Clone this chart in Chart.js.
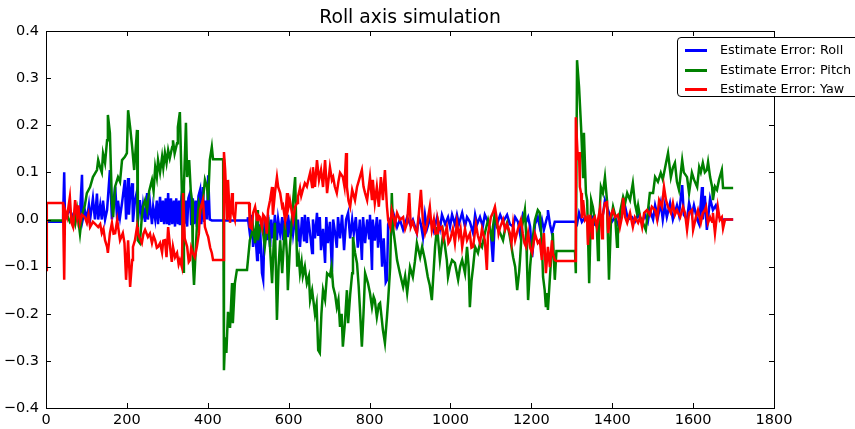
<html>
<head>
<script src="https://cdn.jsdelivr.net/npm/chart.js@4.4.1/dist/chart.umd.min.js"></script>
<style>
  body { margin: 0; width: 855px; height: 429px; overflow: hidden; background: #fff; position: relative; }
  canvas { position: absolute; left: 0; top: 0; }
  #legend {
    position: absolute; left: 677px; top: 37px; width: 200px; height: 58px;
    border: 1px solid #000; border-radius: 4px; background: #fff;
    font-family: "DejaVu Sans", sans-serif; font-size: 12.8px; color: #000;
  }
  #legend .row { position: absolute; left: 0; height: 16px; }
  #legend .swatch { position: absolute; left: 7px; top: 7px; width: 22px; height: 3px; }
  #legend .label { position: absolute; left: 42px; top: 0; white-space: nowrap; line-height: 16px; }
</style>
</head>
<body>
<canvas id="myChart" width="855" height="429"></canvas>
<div id="legend"></div>
<script>
  // estimate error samples, [step, error]
  var titleText = "Roll axis simulation";
  var seriesNames = ["Estimate Error: Roll", "Estimate Error: Pitch", "Estimate Error: Yaw"];
  var seriesColors = ["#0000ff", "#008000", "#ff0000"];

  var roll = [
    [0,-0.005],[42,-0.005],[45,0.1],[47,0],[52,0.01],[59,0.02],[67,0.005],[72,0.015],[77,0],[84,0.01],
    [89,0.095],[91,0],[96,0.02],[101,0],[106,0.03],[109,0],[116,0.045],[121,0],[126,0.055],[129,0],
    [134,0.03],[138,0],[141,0.04],[146,0],[151,0.02],[158,0.105],[163,0],[166,0.03],[171,0.07],[176,0],
    [178,0.04],[183,0.005],[188,0.035],[195,0.084],[198,0],[203,0.088],[205,0.01],[208,0.05],[213,0.077],[215,-0.005],
    [220,0.04],[225,0.06],[227,-0.005],[232,0.041],[237,0],[240,0.03],[245,-0.005],[250,0.056],[252,0],[257,0.035],
    [262,-0.01],[265,0.027],[270,0],[274,0.04],[277,-0.01],[282,0.048],[285,-0.005],[289,0.04],[292,-0.01],[296,0.045],
    [299,-0.01],[302,0.056],[305,-0.012],[309,0.045],[312,-0.01],[316,0.04],[319,-0.015],[322,0.045],[326,-0.01],[329,0.04],
    [331,-0.012],[335,0.048],[339,0.077],[342,-0.01],[346,0.04],[349,-0.015],[352,0.045],[356,0.056],[359,-0.012],[363,0.045],
    [366,-0.01],[370,0.04],[373,-0.015],[377,0.05],[381,0.063],[384,-0.01],[388,0.069],[391,-0.005],[395,0.04],[398,0],
    [401,0.094],[405,0],[410,-0.002],[497,-0.002],[499,0.005],[504,-0.03],[509,0.01],[512,-0.058],[517,-0.02],[522,-0.086],
    [524,0],[527,-0.07],[529,-0.01],[534,-0.114],[537,-0.128],[541,0.005],[546,-0.044],[549,0.01],[554,-0.058],[557,0],
    [561,-0.04],[566,0.01],[571,-0.044],[574,0],[579,-0.03],[584,0.005],[586,-0.044],[591,0],[596,-0.035],[598,0.01],
    [603,-0.02],[608,0],[611,-0.03],[616,0.005],[621,-0.044],[623,0],[628,-0.058],[633,0.005],[638,-0.044],[640,0.01],
    [645,-0.05],[648,0.005],[653,-0.03],[658,-0.071],[660,0],[665,-0.04],[670,0.014],[673,-0.035],[677,0.005],[680,-0.065],
    [685,-0.02],[690,-0.092],[693,0.005],[697,-0.05],[702,-0.005],[707,-0.111],[710,0],[715,-0.03],[719,-0.06],[722,0.005],
    [727,-0.04],[732,0.01],[737,-0.065],[742,0],[747,0.014],[752,-0.04],[757,0],[761,-0.03],[766,0.005],[771,-0.06],
    [776,0],[781,-0.086],[784,0.005],[789,-0.05],[794,0],[799,-0.04],[801,0.01],[806,-0.107],[808,0],[813,-0.045],
    [818,0.005],[821,-0.06],[826,0],[831,-0.1],[835,-0.04],[840,-0.133],[843,-0.128],[846,-0.01],[851,0],[855,-0.02],
    [860,0.01],[868,-0.016],[875,0],[883,-0.022],[893,0.005],[900,-0.01],[907,0],[917,-0.029],[922,0.005],[927,-0.01],
    [932,-0.037],[937,0.01],[942,-0.02],[949,0],[954,-0.01],[959,-0.025],[967,0.005],[974,-0.02],[979,0.01],[987,-0.01],
    [994,0.005],[999,-0.015],[1004,0.01],[1011,-0.01],[1016,0.01],[1021,-0.01],[1029,0.014],[1036,-0.015],[1041,0.005],[1048,-0.005],
    [1056,-0.029],[1061,0.01],[1066,-0.01],[1073,0.005],[1080,-0.015],[1085,0.01],[1093,-0.005],[1100,-0.03],[1105,-0.09],[1110,0.005],
    [1115,-0.01],[1123,0.01],[1130,-0.005],[1140,0.01],[1147,-0.01],[1155,-0.015],[1160,0.005],[1167,-0.005],[1172,-0.03],[1179,0.01],
    [1187,-0.005],[1192,0.005],[1197,-0.015],[1202,-0.08],[1209,-0.01],[1216,0.005],[1221,-0.016],[1226,0],[1231,-0.022],[1239,0.005],
    [1241,0.02],[1246,-0.01],[1251,-0.029],[1258,-0.005],[1308,-0.005],[1313,-0.01],[1318,0.014],[1325,-0.005],[1333,0.005],[1340,-0.005],
    [1350,0.005],[1357,-0.01],[1370,0],[1377,0.01],[1382,0.041],[1390,0.02],[1399,-0.005],[1407,0.005],[1414,-0.01],[1424,0.01],
    [1432,0.027],[1439,0],[1449,0.005],[1456,-0.005],[1464,0.01],[1474,-0.005],[1481,0.01],[1488,-0.005],[1493,0.02],[1501,0],
    [1506,0.03],[1513,0.005],[1520,0.035],[1525,0],[1530,0.03],[1535,0.005],[1543,0.035],[1550,0],[1560,0.03],[1565,0.01],
    [1573,0.073],[1577,0.01],[1585,0],[1590,0.035],[1597,0.01],[1602,0.03],[1610,0],[1615,-0.01],[1622,0.069],[1624,0],
    [1629,0.05],[1634,-0.022],[1642,0.045],[1649,0.02],[1656,0.03],[1664,0.005],[1671,0],[1699,0]
  ];

  var pitch = [
    [0,-0.002],[42,-0.002],[45,0.005],[52,0.01],[59,-0.005],[67,0.005],[72,-0.01],[77,0.02],[84,-0.03],[89,0.01],
    [96,0.03],[101,0.056],[109,0.069],[116,0.09],[126,0.105],[129,0.126],[134,0.11],[138,0.1],[141,0.14],[146,0.12],
    [151,0.168],[153,0.222],[158,0.184],[163,0.035],[166,0.005],[171,0.07],[178,0.09],[183,0.08],[188,0.126],[195,0.133],
    [200,0.141],[203,0.232],[208,0.196],[213,0.154],[218,0.105],[225,0.19],[227,-0.044],[232,-0.05],[237,0.005],[240,0.027],
    [245,0.041],[250,0.02],[255,0.06],[262,0.084],[266,0.06],[270,0.111],[274,0.09],[277,0.126],[282,0.1],[287,0.133],
    [290,0.11],[294,0.141],[298,0.12],[302,0.147],[306,0.13],[312,0.154],[314,0.168],[318,0.14],[324,0.162],[326,0.196],
    [331,0.228],[336,0.056],[339,-0.111],[341,0.069],[346,0.205],[349,0.09],[354,0.126],[358,0.06],[361,0.041],[363,-0.086],
    [366,-0.139],[373,-0.016],[378,0.035],[383,0.02],[388,0.041],[393,0.084],[398,0.069],[401,0.041],[405,0.126],[410,0.154],
    [413,0.128],[438,0.128],[440,-0.32],[443,-0.25],[446,-0.283],[450,-0.196],[455,-0.23],[460,-0.135],[462,-0.22],[467,-0.135],
    [472,-0.107],[497,-0.107],[504,-0.044],[509,-0.03],[512,-0.016],[517,-0.05],[522,0.02],[524,-0.044],[529,-0.02],[534,-0.007],
    [537,-0.03],[541,-0.058],[546,-0.02],[549,0.005],[554,-0.06],[559,-0.135],[563,-0.05],[566,-0.007],[571,-0.213],[575,-0.1],
    [579,-0.044],[584,-0.114],[588,-0.05],[591,-0.007],[596,-0.08],[598,-0.15],[603,-0.06],[608,0],[612,0.05],[616,0.09],
    [621,-0.1],[625,-0.08],[628,-0.114],[632,-0.09],[635,-0.12],[640,-0.1],[645,-0.135],[650,-0.12],[653,-0.171],[658,-0.15],
    [665,-0.2],[669,-0.18],[673,-0.277],[677,-0.283],[681,-0.2],[685,-0.15],[690,-0.17],[695,-0.114],[702,-0.12],[706,-0.1],
    [710,-0.143],[715,-0.16],[719,-0.186],[723,-0.17],[727,-0.228],[731,-0.2],[734,-0.27],[739,-0.22],[744,-0.15],[747,-0.22],
    [752,-0.16],[757,-0.114],[759,-0.037],[764,-0.07],[769,-0.093],[773,-0.14],[776,-0.186],[781,-0.27],[785,-0.2],[789,-0.114],
    [796,-0.135],[801,-0.156],[806,-0.186],[810,-0.164],[813,-0.171],[818,-0.207],[823,-0.18],[826,-0.177],[833,-0.234],[838,-0.262],
    [843,-0.207],[846,-0.171],[851,-0.101],[855,0.056],[858,-0.016],[863,-0.05],[868,-0.086],[875,-0.114],[883,-0.143],[888,-0.12],
    [893,-0.156],[900,-0.101],[907,-0.122],[912,-0.09],[917,-0.05],[925,-0.08],[930,-0.058],[937,-0.086],[944,-0.122],[949,-0.14],
    [954,-0.171],[962,-0.058],[967,-0.016],[974,-0.086],[982,-0.029],[987,-0.06],[991,-0.086],[994,-0.122],[999,-0.1],[1004,-0.086],
    [1011,-0.092],[1019,-0.128],[1024,-0.1],[1029,-0.086],[1036,-0.114],[1041,-0.058],[1045,-0.1],[1048,-0.186],[1052,-0.13],[1056,-0.101],
    [1061,-0.058],[1068,-0.071],[1073,-0.05],[1078,-0.058],[1085,-0.029],[1093,-0.001],[1098,-0.02],[1103,-0.044],[1105,-0.016],[1110,0.014],
    [1115,-0.016],[1123,-0.029],[1130,-0.044],[1135,-0.02],[1140,-0.007],[1147,-0.037],[1155,-0.08],[1160,-0.1],[1165,-0.15],[1170,-0.11],
    [1172,-0.086],[1177,-0.016],[1184,0.02],[1187,-0.03],[1189,-0.086],[1192,-0.171],[1197,-0.1],[1202,-0.05],[1209,-0.001],[1216,0.02],
    [1221,0.014],[1226,-0.05],[1229,-0.122],[1233,-0.15],[1236,-0.186],[1239,-0.156],[1241,-0.192],[1246,-0.122],[1250,-0.07],[1253,-0.029],
    [1258,-0.128],[1262,-0.067],[1308,-0.067],[1310,-0.114],[1313,0.338],[1318,0.281],[1323,0.196],[1328,0.09],[1330,0.184],[1335,0.056],
    [1338,0.041],[1343,-0.135],[1348,0.041],[1352,0.027],[1357,-0.001],[1362,-0.016],[1365,-0.086],[1367,-0.016],[1372,0.069],[1377,0.056],
    [1382,0.09],[1387,0.041],[1392,-0.128],[1397,0],[1402,0.027],[1407,0.01],[1412,-0.058],[1414,-0.03],[1419,0.014],[1427,0.048],
    [1432,0.035],[1437,0.056],[1444,0.041],[1451,0.077],[1456,0.035],[1461,0.014],[1464,0.03],[1469,0.005],[1476,-0.007],[1483,-0.022],
    [1486,0],[1493,0.056],[1501,0.056],[1506,0.09],[1513,0.08],[1520,0.099],[1525,0.085],[1533,0.12],[1538,0.141],[1545,0.09],
    [1550,0.11],[1555,0.12],[1560,0.08],[1565,0.063],[1573,0.126],[1577,0.1],[1585,0.09],[1590,0.056],[1597,0.099],[1602,0.085],
    [1610,0.069],[1615,0.111],[1619,0.1],[1624,0.12],[1629,0.1],[1634,0.105],[1637,0.122],[1642,0.09],[1647,0.069],[1649,0.041],
    [1654,0.07],[1659,0.063],[1664,0.084],[1671,0.105],[1674,0.067],[1699,0.067]
  ];

  var yaw = [
    [0,-0.107],[2,0.035],[42,0.035],[45,-0.128],[47,0.02],[52,0.005],[56,0.03],[59,0.048],[63,-0.007],[67,-0.016],
    [72,0.041],[77,0.005],[80,0.03],[84,-0.007],[89,0.01],[96,0.005],[101,-0.007],[105,0.01],[109,-0.016],[116,-0.005],
    [122,-0.01],[129,-0.016],[134,-0.01],[138,-0.029],[142,-0.02],[146,-0.044],[151,-0.058],[153,-0.071],[158,-0.029],[163,-0.007],
    [167,-0.03],[171,-0.029],[176,-0.001],[183,-0.044],[190,-0.029],[194,-0.05],[198,-0.128],[203,-0.044],[208,-0.143],[213,-0.086],
    [215,-0.058],[220,-0.044],[225,-0.016],[227,-0.029],[232,-0.04],[237,-0.05],[241,-0.03],[245,-0.022],[252,-0.037],[257,-0.03],
    [262,-0.05],[266,-0.035],[270,-0.044],[274,-0.06],[277,-0.058],[282,-0.05],[287,-0.07],[290,-0.045],[294,-0.044],[298,-0.08],
    [302,-0.016],[307,-0.06],[311,-0.09],[314,-0.058],[319,-0.08],[324,-0.071],[328,-0.095],[331,-0.086],[336,-0.101],[339,0.056],
    [343,-0.04],[349,-0.058],[353,-0.09],[356,-0.086],[359,-0.06],[363,-0.071],[368,-0.08],[373,-0.058],[378,-0.03],[381,0.02],
    [388,0.041],[393,-0.016],[398,-0.03],[401,-0.037],[406,-0.06],[410,-0.071],[413,-0.086],[438,-0.086],[440,0.143],[443,0.105],
    [448,-0.001],[450,0.084],[455,-0.007],[460,0.056],[462,0.014],[467,-0.001],[470,0.035],[502,0.035],[504,-0.016],[509,-0.02],
    [512,0.014],[517,0.027],[522,-0.001],[524,0.01],[529,0.005],[534,-0.016],[537,0.01],[541,0.005],[546,-0.03],[549,0.02],
    [554,0.041],[559,0.069],[561,0.01],[566,0.056],[571,0.09],[574,0.069],[579,0.056],[584,0.027],[586,0.03],[591,0],
    [596,0.056],[598,0.02],[603,0.041],[608,0.014],[611,-0.001],[616,0.027],[621,0.035],[623,0.048],[628,0.067],[631,0.05],
    [635,0.063],[640,0.077],[645,0.07],[649,0.085],[653,0.099],[658,0.069],[660,0.111],[665,0.069],[670,0.126],[675,0.084],
    [680,0.105],[685,0.069],[690,0.126],[695,0.056],[702,0.111],[707,0.084],[710,0.09],[714,0.07],[719,0.056],[723,0.08],
    [727,0.099],[734,0.09],[738,0.07],[742,0.141],[744,0.069],[748,0.04],[752,0.027],[757,0.063],[764,0.041],[769,0.069],
    [776,0.09],[781,0.105],[785,0.07],[789,0.056],[794,0.041],[801,0.09],[806,0.041],[808,0.084],[813,0.035],[818,0.069],
    [823,0.027],[828,0.09],[833,0.041],[838,0.105],[843,0.027],[846,-0.001],[851,-0.016],[855,0.02],[858,0.01],[863,-0.01],
    [868,0.014],[875,-0.001],[883,0.005],[888,-0.02],[893,-0.007],[898,0.056],[902,-0.016],[907,-0.005],[912,-0.02],[917,-0.029],
    [922,0.014],[927,0.063],[932,-0.005],[937,-0.029],[942,-0.01],[949,0.027],[954,-0.022],[959,0],[963,-0.03],[967,-0.029],
    [969,-0.001],[974,-0.02],[979,-0.016],[983,-0.04],[987,-0.029],[991,-0.016],[995,-0.05],[999,-0.044],[1006,-0.02],[1011,-0.05],
    [1016,-0.007],[1021,-0.035],[1025,-0.02],[1029,-0.058],[1036,-0.02],[1041,-0.044],[1048,-0.03],[1052,-0.06],[1056,-0.058],[1063,-0.01],
    [1068,-0.035],[1073,-0.05],[1078,-0.02],[1085,-0.044],[1090,-0.107],[1093,-0.03],[1100,0.005],[1105,0.014],[1110,0.027],[1115,-0.001],
    [1119,-0.03],[1123,-0.016],[1130,0],[1135,-0.022],[1140,-0.01],[1147,-0.029],[1151,-0.05],[1155,-0.01],[1160,-0.044],[1167,-0.02],
    [1174,-0.001],[1179,-0.03],[1183,-0.05],[1187,-0.058],[1192,-0.029],[1197,-0.06],[1202,-0.071],[1209,-0.03],[1216,-0.05],[1221,-0.044],
    [1226,-0.086],[1231,-0.029],[1236,-0.114],[1241,-0.058],[1246,-0.101],[1251,-0.044],[1253,-0.071],[1258,-0.086],[1262,-0.088],[1308,-0.088],
    [1310,0.217],[1315,0.126],[1318,0.143],[1320,0.069],[1323,0.056],[1325,0.003],[1328,0.041],[1333,-0.001],[1338,0.005],[1340,-0.054],
    [1345,0.01],[1350,-0.04],[1352,-0.001],[1357,0.005],[1362,-0.016],[1365,0],[1370,0.024],[1375,-0.04],[1377,0.01],[1382,0.035],
    [1387,0.037],[1390,-0.029],[1394,0],[1399,0.015],[1402,0.02],[1407,0.005],[1414,0.01],[1419,-0.016],[1424,0.005],[1427,0.046],
    [1432,0.005],[1437,-0.007],[1444,0.014],[1451,-0.016],[1456,0.005],[1464,-0.007],[1469,0.005],[1474,-0.016],[1479,0.014],[1486,0.02],
    [1493,0.01],[1498,0.027],[1506,0.02],[1511,0],[1516,0.041],[1523,0.027],[1528,0.069],[1533,0.041],[1538,0.027],[1545,0.014],
    [1550,0.035],[1555,0.01],[1560,0.02],[1568,0.005],[1575,0.027],[1580,0.014],[1585,-0.022],[1590,0.014],[1597,0.02],[1600,-0.022],
    [1607,0.005],[1612,0.02],[1619,-0.007],[1624,0.014],[1629,0.02],[1632,0.027],[1637,-0.007],[1642,0.005],[1647,-0.005],[1649,0.014],
    [1654,-0.029],[1659,0.01],[1661,0.027],[1666,-0.001],[1671,0.005],[1674,-0.019],[1679,0],[1699,0]
  ];

  var allSeries = [roll, pitch, yaw];

  // legend as plain html, sits partly off the right edge like the original
  var legend = document.getElementById('legend');
  seriesNames.forEach(function (name, i) {
    var row = document.createElement('div');
    row.className = 'row';
    row.style.top = (4 + i * 19.5) + 'px';
    row.innerHTML = '<span class="swatch" style="background:' + seriesColors[i] + '"></span>' +
                    '<span class="label">' + name + '</span>';
    legend.appendChild(row);
  });

  // frame, inward ticks on all four sides and the title
  var axesFrame = {
    id: 'axesFrame',
    afterDraw: function (chart) {
      var ctx = chart.ctx, a = chart.chartArea, sx = chart.scales.x, sy = chart.scales.y;
      ctx.save();
      ctx.strokeStyle = '#000';
      ctx.lineWidth = 1;
      ctx.strokeRect(a.left + 0.5, a.top + 0.5, a.right - a.left, a.bottom - a.top);
      ctx.beginPath();
      sx.ticks.forEach(function (t) {
        var px = Math.round(sx.getPixelForValue(t.value)) + 0.5;
        ctx.moveTo(px, a.bottom); ctx.lineTo(px, a.bottom - 5);
        ctx.moveTo(px, a.top); ctx.lineTo(px, a.top + 5);
      });
      sy.ticks.forEach(function (t) {
        var py = Math.round(sy.getPixelForValue(t.value)) + 0.5;
        ctx.moveTo(a.left, py); ctx.lineTo(a.left + 5, py);
        ctx.moveTo(a.right, py); ctx.lineTo(a.right - 5, py);
      });
      ctx.stroke();
      ctx.fillStyle = '#000';
      ctx.font = '18.8px "DejaVu Sans"';
      ctx.textAlign = 'center';
      ctx.textBaseline = 'middle';
      ctx.fillText(titleText, (a.left + a.right) / 2, 18);
      ctx.restore();
    }
  };

  var ctx = document.getElementById('myChart').getContext('2d');
  var chart = new Chart(ctx, {
    type: 'line',
    data: {
      datasets: allSeries.map(function (pts, i) {
        return {
          label: seriesNames[i],
          data: pts.map(function (p) { return { x: p[0], y: p[1] }; }),
          borderColor: seriesColors[i],
          backgroundColor: seriesColors[i],
          borderWidth: 2.5,
          pointRadius: 0,
          tension: 0,
          fill: false,
          order: 2 - i
        };
      })
    },
    options: {
      responsive: false,
      animation: false,
      devicePixelRatio: 1,
      layout: { padding: { top: 31, right: 81, left: 0, bottom: 0 } },
      plugins: { legend: { display: false }, title: { display: false }, tooltip: { enabled: false } },
      scales: {
        x: {
          type: 'linear', min: 0, max: 1800,
          grid: { display: false, drawTicks: false },
          border: { display: false },
          ticks: {
            stepSize: 200, padding: 4, color: '#000', maxRotation: 0,
            font: { family: 'DejaVu Sans', size: 14.5 },
            callback: function (v) { return String(v); }
          },
          afterFit: function (s) { s.height = 21; }
        },
        y: {
          type: 'linear', min: -0.4, max: 0.4,
          grid: { display: false, drawTicks: false },
          border: { display: false },
          ticks: {
            stepSize: 0.1, padding: 7, color: '#000',
            font: { family: 'DejaVu Sans', size: 14.5 },
            callback: function (v) { return Number(v).toFixed(1).replace('-', '\u2212'); }
          },
          afterFit: function (s) { s.width = 46; }
        }
      }
    },
    plugins: [axesFrame]
  });
</script>
</body>
</html>
